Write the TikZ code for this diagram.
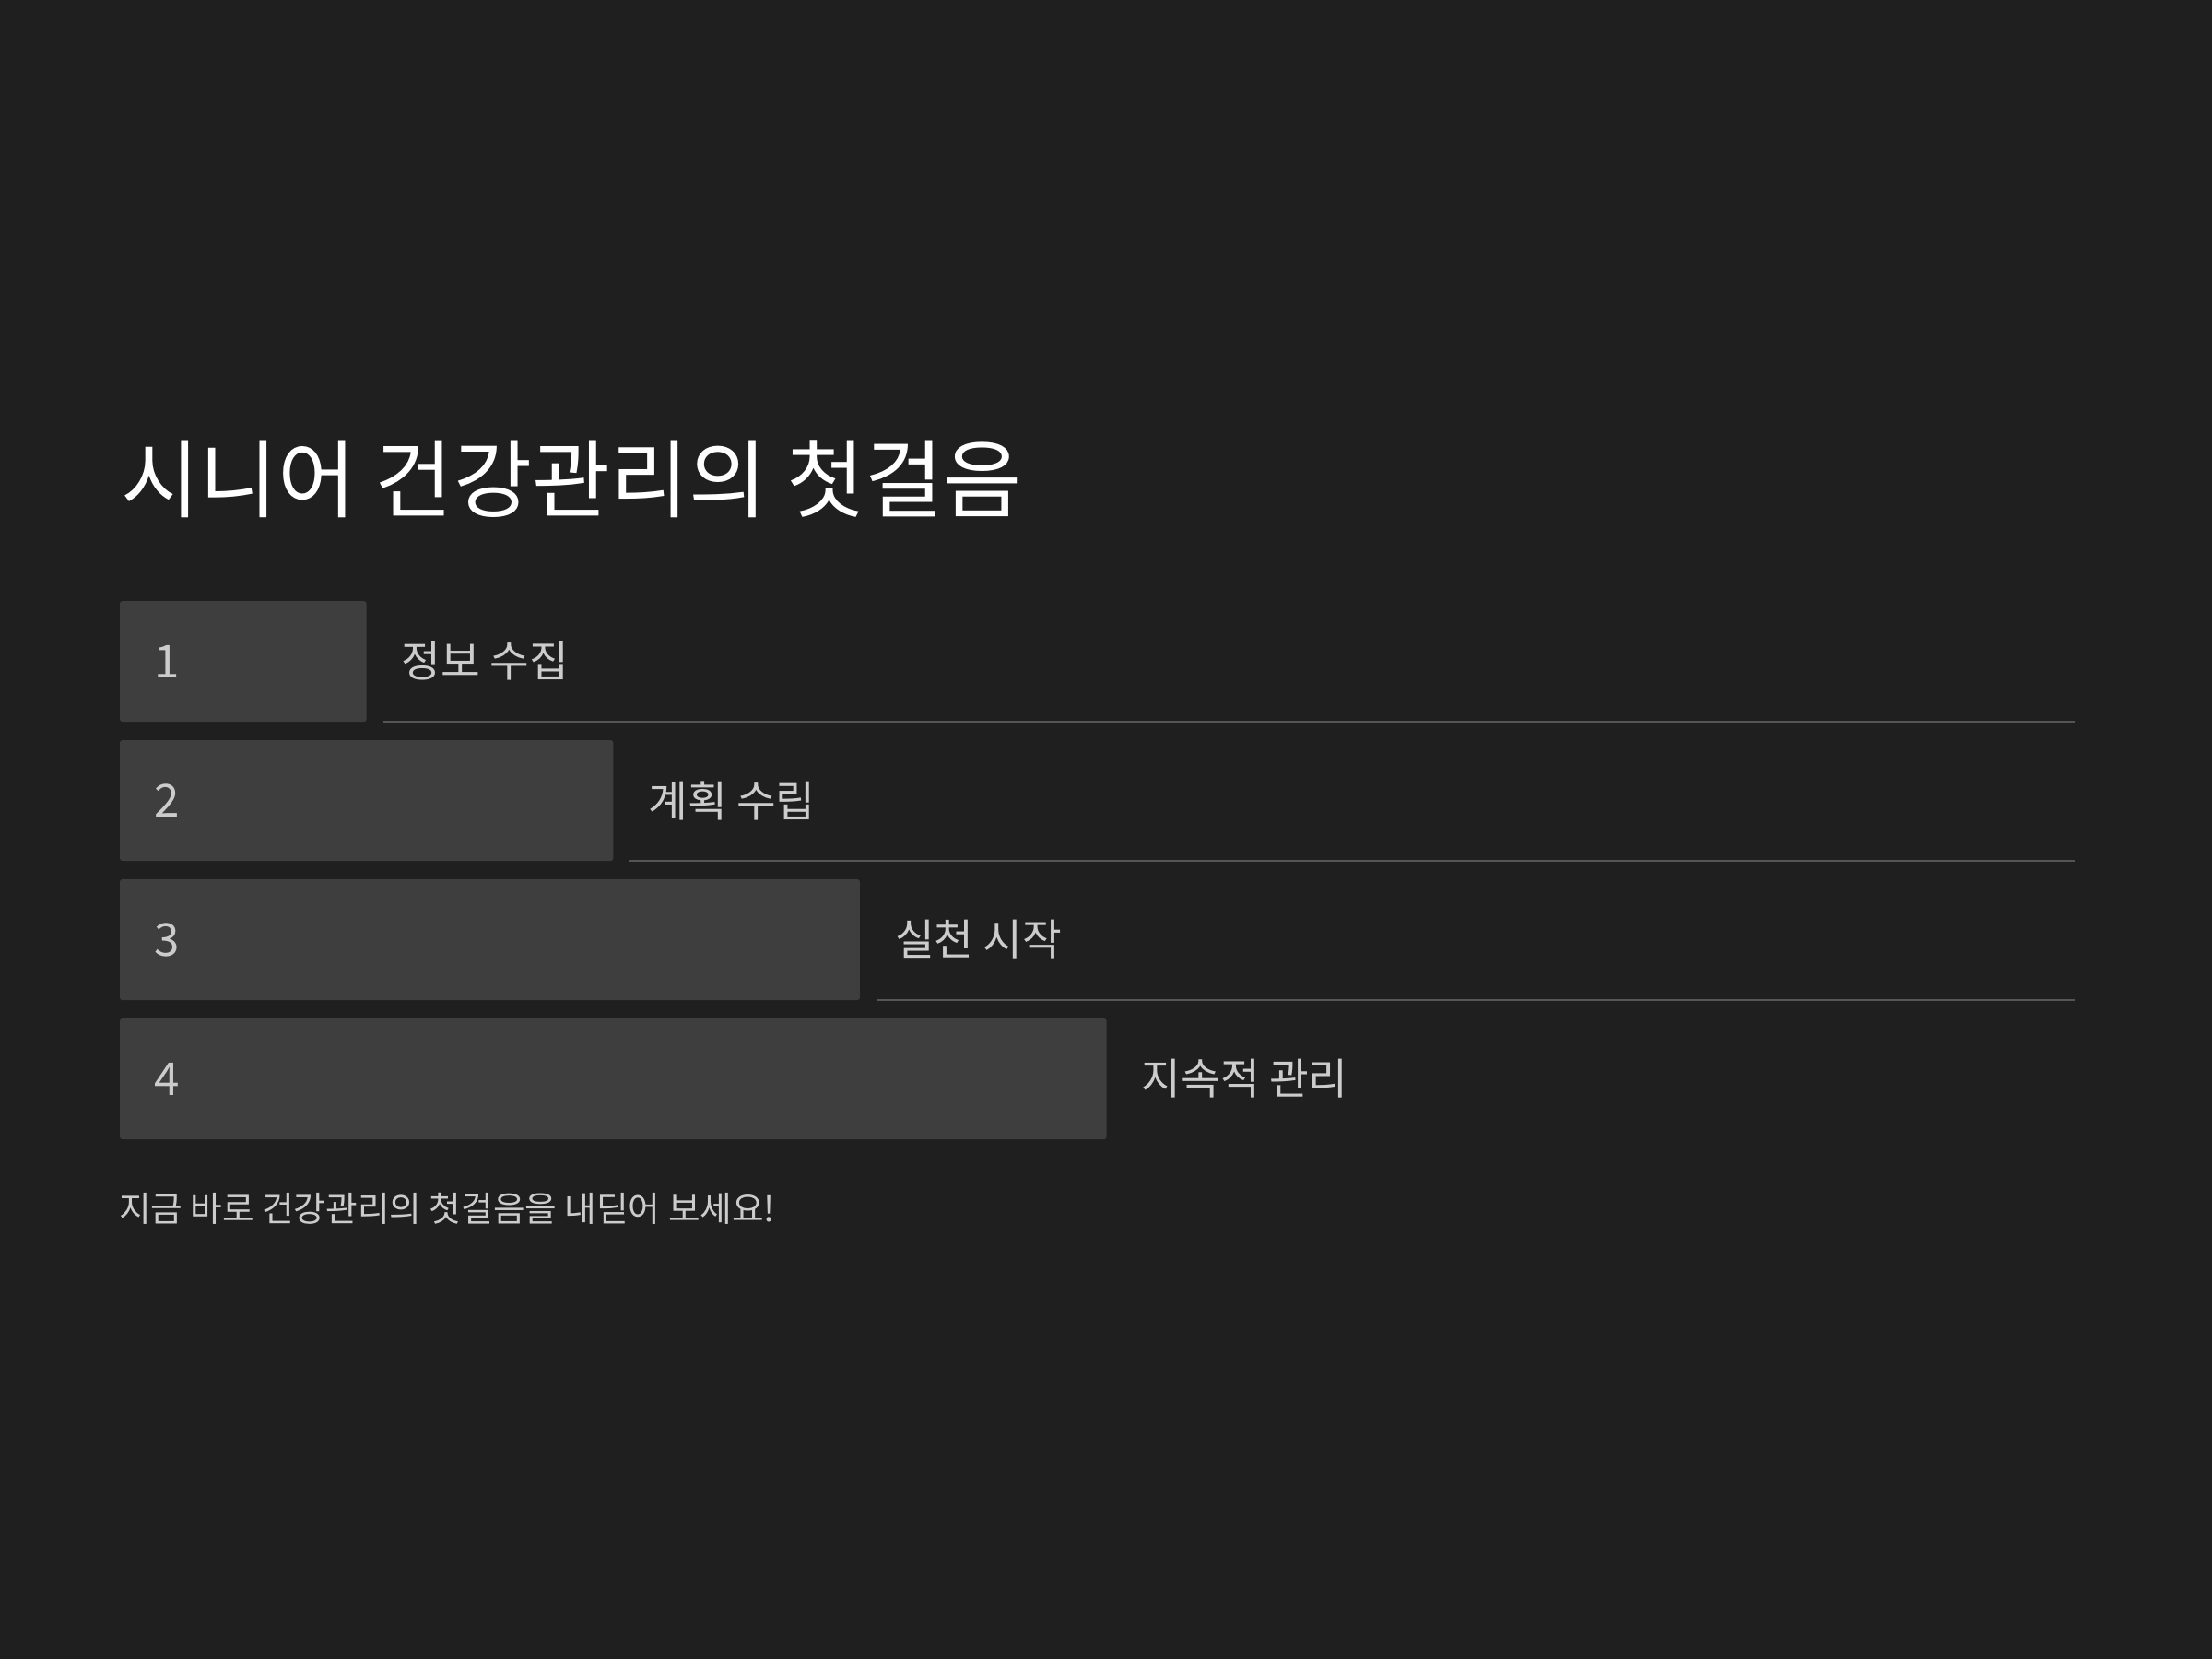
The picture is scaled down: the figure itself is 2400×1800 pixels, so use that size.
\documentclass[tikz,border=0pt]{standalone}
\usepackage{fontspec}
\setmainfont{Noto Sans CJK KR}
\usepackage{tikz}
\usetikzlibrary{positioning}

\definecolor{bgcol}{HTML}{1F1F1F}
\definecolor{barcol}{HTML}{3E3E3E}
\definecolor{rulecol}{HTML}{555555}
\definecolor{txtcol}{HTML}{CCCCCC}

\begin{document}
\begin{tikzpicture}[x=0.01cm, y=-0.01cm,
    every node/.style={inner sep=0pt, outer sep=0pt},
    stepbar/.style={fill=barcol, rounded corners=0.8pt, anchor=north west, minimum height=1.31cm},
    stepnum/.style={anchor=west, text=txtcol, font=\fontsize{14}{17}\selectfont},
    steplabel/.style={anchor=west, text=txtcol, font=\fontsize{13.2}{16}\selectfont},
    rule/.style={draw=rulecol, line width=0.55pt}]
    \fill [bgcol] (0,0) rectangle (2400,1800);
    \useasboundingbox (0,0) rectangle (2400,1800);
    % title
    \node (title) [anchor=west, text=white, font=\fontsize{26.3}{31}\selectfont] at (131,520) {시니어 건강관리의 첫걸음};
    % bars
    \node (bar1) [stepbar, minimum width=2.675cm] at (130,652) {};
    \node (bar2) [stepbar, minimum width=5.35cm] at (130,803) {};
    \node (bar3) [stepbar, minimum width=8.025cm] at (130,954) {};
    \node (bar4) [stepbar, minimum width=10.7cm] at (130,1105) {};
    % numbers
    \node (num1) [stepnum] at (bar1.west) [xshift=0.37cm] {1};
    \node (num2) [stepnum] at (bar2.west) [xshift=0.37cm] {2};
    \node (num3) [stepnum] at (bar3.west) [xshift=0.37cm] {3};
    \node (num4) [stepnum] at (bar4.west) [xshift=0.37cm] {4};
    % labels
    \node (lab1) [steplabel, right=0.38cm of bar1] {정보 수집};
    \node (lab2) [steplabel, right=0.38cm of bar2] {계획 수립};
    \node (lab3) [steplabel, right=0.38cm of bar3] {실천 시작};
    \node (lab4) [steplabel, right=0.38cm of bar4] {지속적 관리};
    % rules under the labels
    \coordinate (rend) at (2251,0);
    \draw [rule] ([xshift=0.18cm]bar1.south east) -- (bar1.south east -| rend);
    \draw [rule] ([xshift=0.18cm]bar2.south east) -- (bar2.south east -| rend);
    \draw [rule] ([xshift=0.18cm]bar3.south east) -- (bar3.south east -| rend);
    % footer
    \node (foot) [anchor=west, text=txtcol, font=\fontsize{10.7}{13}\selectfont] at (129,1311) {지금 바로 건강관리의 첫걸음을 내딛어 보세요!};
\end{tikzpicture}
\end{document}
